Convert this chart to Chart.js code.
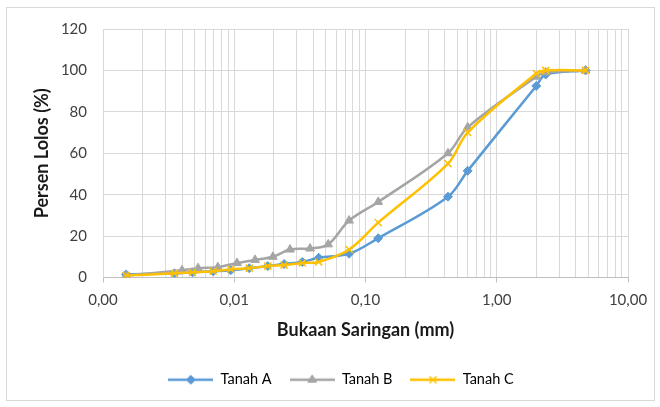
<!DOCTYPE html>
<html>
<head>
<meta charset="utf-8">
<script src="https://cdn.jsdelivr.net/npm/chart.js@4.4.1/dist/chart.umd.min.js"></script>
<style>
  html, body { margin: 0; padding: 0; background: #ffffff; }
  #wrap { position: relative; width: 660px; height: 407px; }
  #wrap canvas { position: absolute; left: 0; top: 0; }
  #frame { position: absolute; left: 6px; top: 7px; width: 649px; height: 394px;
           border: 1px solid #d9d9d9; box-sizing: border-box; pointer-events: none; }
</style>
</head>
<body>
<div id="wrap">
  <canvas id="grading" width="660" height="407"></canvas>
  <div id="frame"></div>
</div>
<script>
// Grain size distribution: sieve opening (mm) vs percent passing
const sizeA = [0.0015, 0.0035, 0.0048, 0.0069, 0.0094, 0.013, 0.018, 0.024, 0.033, 0.044, 0.075, 0.125, 0.425, 0.6, 2.0, 2.36, 4.75];
const passA = [1.5, 2, 2.5, 3, 3.5, 4.5, 5.5, 6.5, 7.5, 9.5, 11.5, 19, 39, 51.5, 92.5, 98, 100];

const sizeB = [0.0015, 0.0040, 0.0053, 0.0075, 0.0105, 0.0144, 0.0197, 0.0266, 0.0378, 0.052, 0.075, 0.125, 0.425, 0.6, 2.0, 2.36, 4.75];
const passB = [1, 3.5, 4.5, 5, 7, 8.5, 10, 13.5, 14, 16, 27.5, 36.5, 60, 72.5, 97, 99, 100];

const sizeC = [0.0015, 0.0035, 0.0048, 0.0069, 0.0094, 0.013, 0.018, 0.024, 0.033, 0.044, 0.075, 0.125, 0.425, 0.6, 2.0, 2.36, 4.75];
const passC = [1, 2, 2.5, 3, 4, 4.5, 5.5, 6, 7, 7.5, 13.5, 26.5, 55, 70, 98.5, 100, 100];

const seriesNames = ['Tanah A', 'Tanah B', 'Tanah C'];

// x axis: labelled decades, y axis: percent ticks
const xDecades = [0.001, 0.01, 0.1, 1, 10];
const xDecadeLabels = ['0,00', '0,01', '0,10', '1,00', '10,00'];
const yTicks = [0, 20, 40, 60, 80, 100, 120];

const COLORS = ['#5B9BD5', '#A5A5A5', '#FFC000'];
const STYLES = ['rectRot', 'triangle', 'crossRot'];
const RADII = [4.5, 5, 5];

const FONT = 'Lato, "Open Sans", "Liberation Sans", sans-serif';

function toPoints(xs, ys) {
  return xs.map((x, i) => ({ x: x, y: ys[i] }));
}

// legend sample: short line with the series marker in the middle
function legendSample(i) {
  const c = document.createElement('canvas');
  c.width = 45; c.height = 14;
  const g = c.getContext('2d');
  g.strokeStyle = COLORS[i];
  g.lineWidth = 2.5;
  g.beginPath(); g.moveTo(0, 7); g.lineTo(45, 7); g.stroke();
  g.fillStyle = COLORS[i];
  g.lineWidth = i === 2 ? 1.5 : 1;
  Chart.helpers.drawPoint(g, { pointStyle: STYLES[i], radius: RADII[i], rotation: 0, borderWidth: g.lineWidth }, 22.5, 7);
  return c;
}
const samples = [0, 1, 2].map(legendSample);

function isDecade(v) {
  return xDecades.some(d => Math.abs(v - d) < d * 1e-6);
}

// the legend row is centred on the whole frame rather than on the plot box
const shiftLegend = {
  id: 'shiftLegend',
  afterLayout(chart) {
    if (chart.legend) { chart.legend.left += 27; chart.legend.right += 27; }
  }
};

const datasets = [[sizeA, passA], [sizeB, passB], [sizeC, passC]].map((s, i) => ({
  label: seriesNames[i],
  data: toPoints(s[0], s[1]),
  borderColor: COLORS[i],
  backgroundColor: COLORS[i],
  borderWidth: 2.5,
  tension: 0.35,
  pointStyle: STYLES[i],
  pointRadius: RADII[i],
  pointBorderWidth: i === 2 ? 1.5 : 1,
  pointBackgroundColor: COLORS[i],
  pointBorderColor: COLORS[i],
  order: 3 - i
}));

new Chart(document.getElementById('grading'), {
  type: 'line',
  data: { datasets: datasets },
  plugins: [shiftLegend],
  options: {
    responsive: false,
    animation: false,
    devicePixelRatio: 1,
    layout: { padding: { top: 29, right: 32, bottom: 10, left: 0 } },
    plugins: {
      tooltip: { enabled: false },
      legend: {
        position: 'bottom',
        labels: {
          usePointStyle: true,
          pointStyleWidth: 45,
          boxHeight: 14,
          padding: 18,
          color: '#404040',
          font: { family: FONT, size: 14.5 },
          generateLabels(chart) {
            return chart.data.datasets.map((ds, i) => ({
              text: ds.label,
              pointStyle: samples[i],
              fillStyle: ds.borderColor,
              strokeStyle: ds.borderColor,
              lineWidth: 0,
              hidden: !chart.isDatasetVisible(i),
              datasetIndex: i
            }));
          }
        }
      }
    },
    scales: {
      x: {
        type: 'logarithmic',
        min: xDecades[0],
        max: xDecades[xDecades.length - 1],
        afterBuildTicks(scale) {
          const ticks = [];
          for (let d = 0; d < xDecades.length - 1; d++) {
            for (let k = 1; k <= 9; k++) ticks.push({ value: xDecades[d] * k });
          }
          ticks.push({ value: xDecades[xDecades.length - 1] });
          scale.ticks = ticks;
        },
        afterFit(scale) { scale.height = 77; },
        ticks: {
          autoSkip: false,
          maxRotation: 0,
          padding: 9,
          color: '#404040',
          font: { family: FONT, size: 15 },
          callback(value) {
            const idx = xDecades.findIndex(d => Math.abs(value - d) < d * 1e-6);
            return idx >= 0 ? xDecadeLabels[idx] : '';
          }
        },
        grid: {
          color: '#d9d9d9',
          lineWidth: 1,
          tickLength: 5,
          tickColor: ctx => (ctx.tick && isDecade(ctx.tick.value)) ? '#bfbfbf' : 'rgba(0,0,0,0)'
        },
        border: { color: '#bfbfbf', width: 1 },
        title: {
          display: true,
          text: 'Bukaan Saringan (mm)',
          color: '#1a1a1a',
          font: { family: FONT, size: 18, weight: 'bold' },
          padding: { top: 0, bottom: 14 }
        }
      },
      y: {
        type: 'linear',
        min: yTicks[0],
        max: yTicks[yTicks.length - 1],
        afterBuildTicks(scale) { scale.ticks = yTicks.map(v => ({ value: v })); },
        afterFit(scale) { scale.width = 103; },
        ticks: {
          padding: 16,
          color: '#404040',
          font: { family: FONT, size: 15 }
        },
        grid: { color: '#d9d9d9', lineWidth: 1, drawTicks: false },
        border: { color: '#d9d9d9', width: 1 },
        title: {
          display: true,
          text: 'Persen Lolos (%)',
          color: '#1a1a1a',
          font: { family: FONT, size: 18, weight: 'bold' },
          padding: { top: 31, bottom: 0 }
        }
      }
    }
  }
});
</script>
</body>
</html>
